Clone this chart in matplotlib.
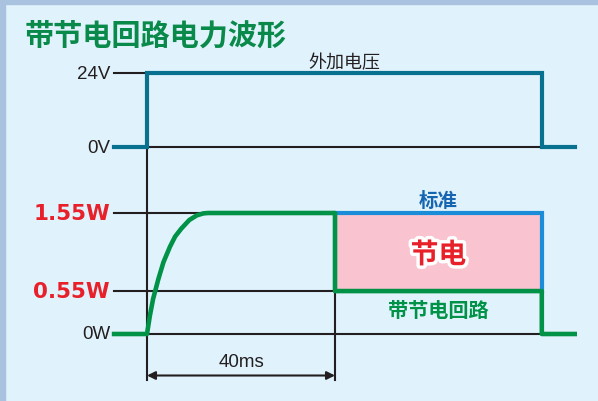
import matplotlib
matplotlib.use("Agg")
import matplotlib.pyplot as plt
import matplotlib.patheffects as pe
from matplotlib.patches import Rectangle

# time in ms, supply voltage in V, power in W
t_supply = [-7, 0, 0, 84, 84, 91]
v_supply = [0, 0, 24, 24, 0, 0]

t_circuit = [-7, 0, 0.6, 1.3, 2.4, 3.5, 4.9, 6.0, 7.3, 9.0, 10.6, 12.0, 13.0,
             40, 40, 84, 84, 91]
w_circuit = [0, 0, 0.23, 0.45, 0.70, 0.92, 1.12, 1.25, 1.35, 1.46, 1.52, 1.545, 1.55,
             1.55, 0.55, 0.55, 0, 0]

t_standard = [40, 84, 84]
w_standard = [1.55, 1.55, 0.55]

v_levels = [24, 0]
v_labels = ["24V", "0V"]
w_levels = [1.55, 0.55, 0]
w_labels = ["1.55W", "0.55W", "0W"]

t_save = (40, 84)
t_dim = (0, 40)
dim_label = "40ms"

title = "带节电回路电力波形"

CJK = ["Noto Sans CJK SC", "DejaVu Sans"]
LAT = ["Liberation Sans", "DejaVu Sans"]
bg = "#e0f2fc"
blue = "#07718f"
blue2 = "#1a8cd8"
green = "#009247"
red = "#e8202a"
black = "#231f20"

fig = plt.figure(figsize=(5.98, 4.02), dpi=100, facecolor=bg)
fig.patches.append(Rectangle((0, 0), 5 / 598, 1, transform=fig.transFigure,
                             color="#a8c2df", zorder=0))
fig.patches.append(Rectangle((0, 1 - 5 / 402), 1, 5 / 402, transform=fig.transFigure,
                             color="#a8c2df", zorder=0))

# pixel layout: t=0 at x=147, 4.7 px/ms; 0V at y=148, 24V at y=74; 0W at y=335, 1.55W at y=214
pxms = 4.7
xlim = (-147 / pxms, (598 - 147) / pxms)
pxv = (148 - 74) / 24
pxw = (335 - 214) / 1.55

axv = fig.add_axes([0, 0, 1, 1])
axv.set_xlim(*xlim)
axv.set_ylim((148 - 402) / pxv, 148 / pxv)
axv.axis("off")
axp = fig.add_axes([0, 0, 1, 1], sharex=axv)
axp.set_ylim((335 - 402) / pxw, 335 / pxw)
axp.axis("off")
axp.patch.set_alpha(0)

y_bot_w = (335 - 381) / pxw
y_arrow_w = (335 - 376.5) / pxw

# black reference lines (voltage part)
axv.plot([t_supply[0], 0], [24, 24], color=black, lw=1.5, zorder=1)
axv.plot([0, 84], [0, 0], color=black, lw=1.5, zorder=1)
axv.plot([0, 0], [0, (148 - 381) / pxv], color=black, lw=1.5, zorder=1)
axv.plot(t_supply, v_supply, color=blue, lw=3, zorder=3, solid_joinstyle="miter")

for lv, lab in zip(v_levels, v_labels):
    axv.text(-7.85, lv, lab, ha="right", va="center", fontsize=13.5,
             family=LAT, color=black)
axv.text(42, 24 + 11 / pxv, "外加电压", ha="center", va="center", fontsize=13,
         family=CJK, color=black)

# power part
axp.fill_between(t_save, [0.55, 0.55], [1.55, 1.55], color="#f9c3cf", lw=0, zorder=1)
axp.plot([-7, 13], [1.55, 1.55], color=black, lw=1.5, zorder=2)
axp.plot([-7, 40], [0.55, 0.55], color=black, lw=1.5, zorder=2)
axp.plot([0, 84], [0, 0], color=black, lw=1.5, zorder=2)
axp.plot([40, 40], [1.55, y_bot_w], color=black, lw=1.5, zorder=2)
axp.plot(t_standard, w_standard, color=blue2, lw=3, zorder=3, solid_joinstyle="miter")
axp.plot(t_circuit, w_circuit, color=green, lw=3.3, zorder=4, solid_joinstyle="round")

for lw_, lab in zip(w_levels, w_labels):
    if lw_ > 0:
        axp.text(-7.85, lw_, lab, ha="right", va="center", fontsize=15.5,
                 family=["DejaVu Sans"], fontweight="bold", color=red)
    else:
        axp.text(-7.85, lw_, lab, ha="right", va="center", fontsize=13.5,
                 family=LAT, color=black)

axp.text(62, 1.55 + 13 / pxw, "标准", ha="center", va="center", fontsize=14,
         family=CJK, fontweight="bold", color="#1565b0")
axp.text(62, 0.55 - 18 / pxw, "带节电回路", ha="center", va="center", fontsize=14.5,
         family=CJK, fontweight="bold", color=green)
axp.text(62, 1.05 - 3 / pxw, "节电", ha="center", va="center", fontsize=20,
         family=CJK, fontweight="bold", color=red,
         path_effects=[pe.withStroke(linewidth=5, foreground="white")])

# 40ms dimension
axp.annotate("", xy=(t_dim[0], y_arrow_w), xytext=(t_dim[1], y_arrow_w),
             arrowprops=dict(arrowstyle="<|-|>", color=black, lw=1.5,
                             mutation_scale=12, shrinkA=0, shrinkB=0), zorder=2)
axp.text(sum(t_dim) / 2, y_arrow_w + 14 / pxw, dim_label, ha="center", va="center",
         fontsize=13.5, family=LAT, color=black)

fig.text(25 / 598, 1 - 36 / 402, title, ha="left", va="center", fontsize=21,
         family=CJK, fontweight="bold", color="#0a8a4a")

fig.savefig("out.png", dpi=100, facecolor=bg)
